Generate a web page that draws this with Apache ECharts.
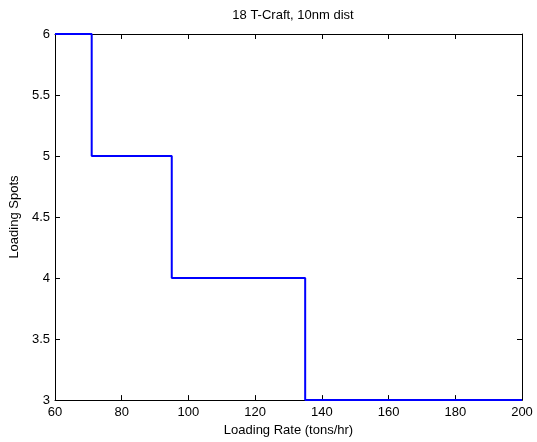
<!DOCTYPE html>
<html><head><meta charset="utf-8">
<script src="https://cdn.jsdelivr.net/npm/echarts@6/dist/echarts.min.js"></script>
<style>html,body{margin:0;padding:0;background:#fff}#c{width:537px;height:442px}</style>
</head><body><div id="c"></div>
<script>
var titleText = '18 T-Craft, 10nm dist';
var xName = 'Loading Rate (tons/hr)';
var yName = 'Loading Spots';
var loadingRate = [60, 71, 95, 135, 200];
var loadingSpots = [6, 5, 4, 3, 3];
var xTicks = [60, 80, 100, 120, 140, 160, 180, 200];
var yTicks = [3, 3.5, 4, 4.5, 5, 5.5, 6];

var font = 'Liberation Sans, Arial, sans-serif';
var data = loadingRate.map(function (x, i) { return [x, loadingSpots[i]]; });
function axisBase(show, margin) {
  return {
    axisLine: { show: true, onZero: false, lineStyle: { color: '#000', width: 1 } },
    axisTick: { show: true, inside: true, length: 5, lineStyle: { color: '#000' } },
    splitLine: { show: false },
    axisLabel: { show: show, color: '#000', fontFamily: font, fontSize: 13, margin: margin }
  };
}
var chart = echarts.init(document.getElementById('c'), null, { renderer: 'canvas' });
chart.setOption({
  animation: false,
  backgroundColor: '#fff',
  title: { text: titleText, left: 288, top: 4, textAlign: 'center',
    textStyle: { fontFamily: font, fontSize: 13, fontWeight: 'normal', color: '#000' } },
  grid: { left: 55, right: 15, top: 34, bottom: 38 },
  xAxis: [
    Object.assign(axisBase(true, 6), { type: 'value', min: xTicks[0], max: xTicks[xTicks.length - 1], interval: 20,
      position: 'bottom', name: xName, nameLocation: 'middle', nameGap: 22,
      nameTextStyle: { fontFamily: font, fontSize: 13, color: '#000' } }),
    Object.assign(axisBase(false, 6), { type: 'value', min: xTicks[0], max: xTicks[xTicks.length - 1], interval: 20, position: 'top' })
  ],
  yAxis: [
    Object.assign(axisBase(true, 5), { type: 'value', min: yTicks[0], max: yTicks[yTicks.length - 1], interval: 0.5,
      position: 'left', name: yName, nameLocation: 'middle', nameGap: 34,
      nameTextStyle: { fontFamily: font, fontSize: 13, color: '#000' } }),
    Object.assign(axisBase(false, 5), { type: 'value', min: yTicks[0], max: yTicks[yTicks.length - 1], interval: 0.5, position: 'right' })
  ],
  series: [{
    type: 'line', step: 'end', data: data, showSymbol: false, symbol: 'none',
    lineStyle: { color: '#0000ff', width: 2 }, clip: false
  }]
});
</script></body></html>
